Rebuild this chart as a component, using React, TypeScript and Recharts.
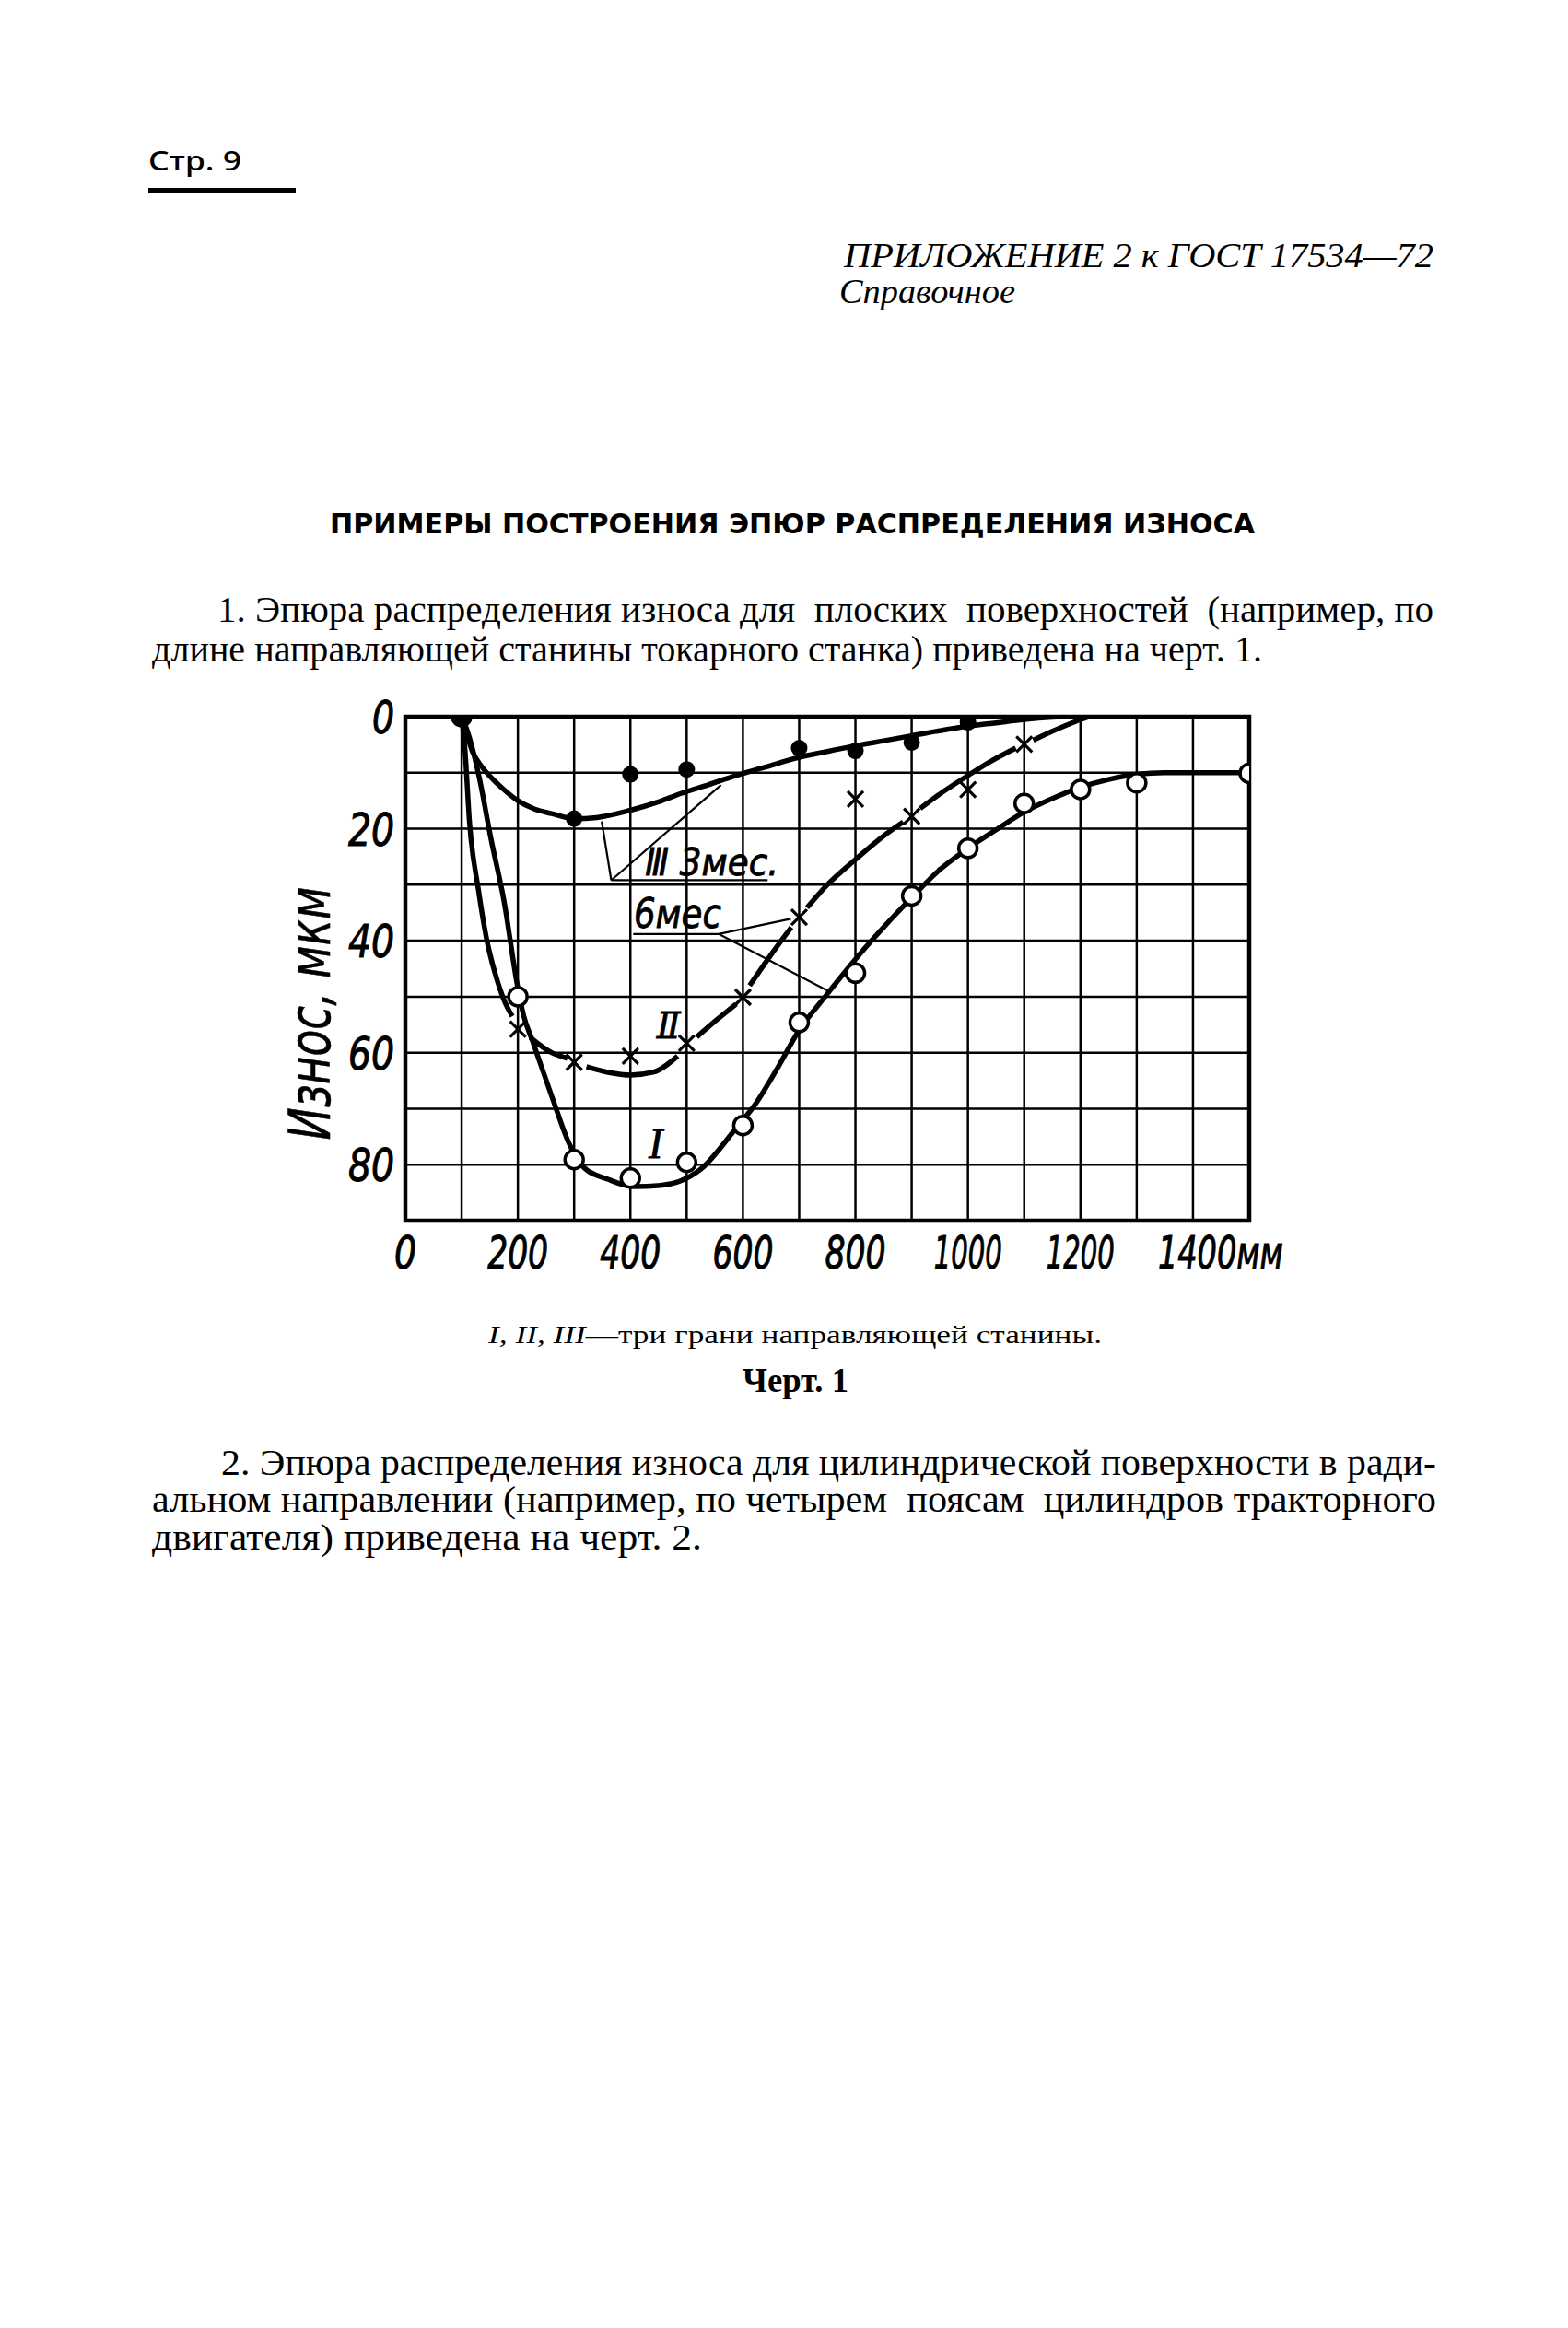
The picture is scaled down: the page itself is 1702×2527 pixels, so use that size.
import React from 'react';
import {
  ComposedChart,
  Line,
  Scatter,
  XAxis,
  YAxis,
  CartesianGrid,
  ReferenceLine,
  ReferenceDot,
  ReferenceArea,
} from 'recharts';

// ---------- data ----------
const xTicks = [0, 200, 400, 600, 800, 1000, 1200, 1400];
const yTicks = [0, 20, 40, 60, 80];
const gridX = [100, 200, 300, 400, 500, 600, 700, 800, 900, 1000, 1100, 1200, 1300, 1400];
const gridY = [10, 20, 30, 40, 50, 60, 70, 80];
const xUnit = 'мм';

type P = { x: number; y: number | null };

// fitted curve I (open circles)
const curveI: P[] = [
  { x: 100, y: 0 }, { x: 110, y: 2.5 }, { x: 131, y: 10.7 }, { x: 152, y: 21.7 }, { x: 175, y: 32.7 },
  { x: 200, y: 48.5 }, { x: 210, y: 53.3 }, { x: 226, y: 57.9 }, { x: 262, y: 68.3 }, { x: 290, y: 76 },
  { x: 316, y: 80.4 }, { x: 360, y: 82.6 }, { x: 406, y: 83.9 }, { x: 454, y: 83.7 }, { x: 524, y: 80.9 },
  { x: 590, y: 73.2 }, { x: 620, y: 69.5 }, { x: 660, y: 63 }, { x: 700, y: 56 }, { x: 750, y: 49.5 },
  { x: 800, y: 43.3 }, { x: 850, y: 37.6 }, { x: 900, y: 32.3 }, { x: 950, y: 27.3 }, { x: 1000, y: 23.5 },
  { x: 1050, y: 20.2 }, { x: 1100, y: 17 }, { x: 1150, y: 14.6 }, { x: 1200, y: 12.6 }, { x: 1250, y: 11.2 },
  { x: 1300, y: 10.3 }, { x: 1350, y: 10 }, { x: 1500, y: 10 },
];

// fitted curve II (crosses) – broken at the crosses as in the drawing
const curveII: P[] = [
  { x: 100, y: 0 }, { x: 106, y: 6 }, { x: 114, y: 18.8 }, { x: 130, y: 31 }, { x: 145, y: 40 },
  { x: 160, y: 46 }, { x: 175, y: 50.5 }, { x: 190, y: 53.5 },
  { x: 200, y: null },
  { x: 222, y: 57.3 }, { x: 260, y: 60 }, { x: 288, y: 61 },
  { x: 300, y: null },
  { x: 322, y: 62.5 }, { x: 360, y: 63.5 }, { x: 400, y: 64 }, { x: 440, y: 63.5 }, { x: 484, y: 60.6 },
  { x: 500, y: null },
  { x: 518, y: 57.2 }, { x: 555, y: 54 }, { x: 588, y: 51.3 },
  { x: 600, y: null },
  { x: 612, y: 48 }, { x: 650, y: 42.5 }, { x: 686, y: 37.6 },
  { x: 700, y: null },
  { x: 714, y: 34.1 }, { x: 750, y: 30 }, { x: 800, y: 25.5 }, { x: 850, y: 21.3 }, { x: 885, y: 18.8 },
  { x: 900, y: null },
  { x: 915, y: 16.4 }, { x: 950, y: 13.8 }, { x: 1000, y: 10.5 }, { x: 1040, y: 8 }, { x: 1085, y: 5.6 },
  { x: 1100, y: null },
  { x: 1116, y: 4.2 }, { x: 1150, y: 2.6 }, { x: 1190, y: 0.9 }, { x: 1215, y: 0 },
];

// fitted curve III (filled dots)
const curveIII: P[] = [
  { x: 100, y: 0 }, { x: 110, y: 3.5 }, { x: 120, y: 6.4 }, { x: 135, y: 8.8 }, { x: 150, y: 10.6 },
  { x: 175, y: 13 }, { x: 200, y: 15 }, { x: 230, y: 16.5 }, { x: 260, y: 17.3 }, { x: 300, y: 18.2 },
  { x: 340, y: 18 }, { x: 400, y: 16.7 }, { x: 450, y: 15.2 }, { x: 490, y: 13.7 }, { x: 540, y: 12.1 },
  { x: 585, y: 10.6 }, { x: 640, y: 9 }, { x: 690, y: 7.5 }, { x: 750, y: 6.2 }, { x: 800, y: 5.2 },
  { x: 850, y: 4.3 }, { x: 900, y: 3.4 }, { x: 950, y: 2.5 }, { x: 1000, y: 1.7 }, { x: 1050, y: 1.1 },
  { x: 1100, y: 0.5 }, { x: 1150, y: 0.1 }, { x: 1170, y: 0 },
];

// measured points
const pointsI = [
  { x: 100, y: 0 }, { x: 200, y: 50 }, { x: 300, y: 79.1 }, { x: 400, y: 82.4 }, { x: 500, y: 79.6 },
  { x: 600, y: 73 }, { x: 700, y: 54.6 }, { x: 800, y: 45.8 }, { x: 900, y: 32 }, { x: 1000, y: 23.5 },
  { x: 1100, y: 15.5 }, { x: 1200, y: 13 }, { x: 1300, y: 11.8 }, { x: 1500, y: 10.1 },
];
const pointsII = [
  { x: 200, y: 55.8 }, { x: 300, y: 61.7 }, { x: 400, y: 60.6 }, { x: 500, y: 58.3 }, { x: 600, y: 50.1 },
  { x: 700, y: 35.8 }, { x: 800, y: 14.7 }, { x: 900, y: 17.8 }, { x: 1000, y: 13 }, { x: 1100, y: 4.9 },
];
const pointsIII = [
  { x: 100, y: 0 }, { x: 300, y: 18.2 }, { x: 400, y: 10.3 }, { x: 500, y: 9.4 }, { x: 700, y: 5.6 },
  { x: 800, y: 6.1 }, { x: 900, y: 4.6 }, { x: 1000, y: 1 },
];

// annotation texts (data coordinates)
const labelIII = { x: 426, y: 28.3, text: 'Ⅲ 3мес.' };
const label6 = { x: 406, y: 37.7, text: '6мес' };
const labelII = { x: 468, y: 55.3, text: 'Ⅱ' };
const labelI = { x: 445, y: 76.2, text: 'I' };
const leaders = [
  [{ x: 349, y: 18.7 }, { x: 366, y: 29.2 }],
  [{ x: 366, y: 29.2 }, { x: 561, y: 12.2 }],
  [{ x: 366, y: 29.2 }, { x: 644, y: 29.2 }],
  [{ x: 405, y: 38.8 }, { x: 557, y: 38.8 }],
  [{ x: 557, y: 38.8 }, { x: 685, y: 36.1 }],
  [{ x: 557, y: 38.8 }, { x: 754, y: 49.1 }],
];

// ---------- styles ----------
const NARROW = "'Liberation Sans Narrow', 'DejaVu Sans Condensed', 'Arial Narrow', 'DejaVu Sans', sans-serif";
const SERIF = "'Liberation Serif', 'DejaVu Serif', serif";
const tickStyle: React.CSSProperties = {
  fontFamily: NARROW,
  fontStyle: 'italic',
  fontSize: 50,
  fill: '#000',
  stroke: '#000',
  strokeWidth: 1,
};
const tickLen = (s: string) => ({ 1: 24, 2: 50, 3: 66, 4: 74 } as Record<number, number>)[s.length] || s.length * 18;

const XTick = (props: any) => {
  const { x, y, payload } = props;
  const v = String(payload.value);
  const last = payload.value === xTicks[xTicks.length - 1];
  if (last) {
    return (
      <text x={x - 38} y={y + 52} textAnchor="start" style={tickStyle} textLength={136} lengthAdjust="spacingAndGlyphs">
        {v + xUnit}
      </text>
    );
  }
  return (
    <text x={x} y={y + 52} textAnchor="middle" style={tickStyle} textLength={tickLen(v)} lengthAdjust="spacingAndGlyphs">
      {v}
    </text>
  );
};

const YTick = (props: any) => {
  const { x, y, payload } = props;
  const v = String(payload.value);
  return (
    <text x={x - 12} y={y + 18} textAnchor="end" style={tickStyle} textLength={tickLen(v)} lengthAdjust="spacingAndGlyphs">
      {v}
    </text>
  );
};

const OpenCircle = (props: any) => {
  const { cx, cy } = props;
  if (cx == null || cy == null) return null;
  return <circle cx={cx} cy={cy} r={10} fill="#fff" stroke="#000" strokeWidth={3.5} />;
};
const Cross = (props: any) => {
  const { cx, cy } = props;
  if (cx == null || cy == null) return null;
  const s = 8.5;
  return (
    <g stroke="#000" strokeWidth={3.2}>
      <line x1={cx - s} y1={cy - s} x2={cx + s} y2={cy + s} />
      <line x1={cx - s} y1={cy + s} x2={cx + s} y2={cy - s} />
    </g>
  );
};
const FilledDot = (props: any) => {
  const { cx, cy } = props;
  if (cx == null || cy == null) return null;
  return <circle cx={cx} cy={cy} r={9} fill="#000" />;
};

const makeText = (text: string, size: number, anchor: string, len?: number, family = NARROW) => (p: any) => (
  <text
    x={p.cx}
    y={p.cy}
    textAnchor={anchor as any}
    fontFamily={family}
    fontStyle="italic"
    fontSize={size}
    fill="#000"
    stroke="#000"
    strokeWidth={0.8}
    textLength={len}
    lengthAdjust="spacingAndGlyphs"
  >
    {text}
  </text>
);

const Chart = () => (
  <ComposedChart width={1200} height={700} margin={{ top: 38, right: 94, bottom: 0, left: 0 }}>
    <CartesianGrid
      horizontalValues={gridY}
      verticalValues={gridX}
      stroke="#000"
      strokeWidth={2.5}
      fill="none"
    />
    <XAxis
      type="number"
      dataKey="x"
      domain={[0, 1500]}
      ticks={xTicks}
      interval={0}
      tickSize={0}
      tickMargin={0}
      axisLine={false}
      tickLine={false}
      height={115}
      tick={XTick}
      allowDataOverflow
    />
    <YAxis
      type="number"
      dataKey="y"
      domain={[0, 90]}
      reversed
      ticks={yTicks}
      interval={0}
      tickSize={0}
      tickMargin={0}
      axisLine={false}
      tickLine={false}
      width={190}
      tick={YTick}
      allowDataOverflow
    />
    <ReferenceArea
      x1={0}
      x2={1500}
      y1={0}
      y2={90}
      fill="none"
      fillOpacity={0}
      stroke="#000"
      strokeWidth={4.5}
      ifOverflow="visible"
    />
    {leaders.map((seg, i) => (
      <ReferenceLine key={i} segment={seg} stroke="#000" strokeWidth={2.2} ifOverflow="visible" />
    ))}
    <Line data={curveIII} dataKey="y" type="monotone" stroke="#000" strokeWidth={5.5} dot={false} activeDot={false} isAnimationActive={false} />
    <Line data={curveII} dataKey="y" type="monotone" stroke="#000" strokeWidth={5.5} dot={false} activeDot={false} isAnimationActive={false} />
    <Line data={curveI} dataKey="y" type="monotone" stroke="#000" strokeWidth={5.5} dot={false} activeDot={false} isAnimationActive={false} />
    <Scatter data={pointsI} shape={OpenCircle} isAnimationActive={false} />
    <Scatter data={pointsII} shape={Cross} isAnimationActive={false} />
    <Scatter data={pointsIII} shape={FilledDot} isAnimationActive={false} />
    <ReferenceDot x={labelIII.x} y={labelIII.y} r={0} ifOverflow="visible" shape={makeText(labelIII.text, 40, 'start', 145)} />
    <ReferenceDot x={label6.x} y={label6.y} r={0} ifOverflow="visible" shape={makeText(label6.text, 44, 'start', 95)} />
    <ReferenceDot x={labelII.x} y={labelII.y + 2.2} r={0} ifOverflow="visible" shape={makeText(labelII.text, 40, 'middle', 26, SERIF)} />
    <ReferenceDot x={labelI.x} y={labelI.y + 2.6} r={0} ifOverflow="visible" shape={makeText(labelI.text, 46, 'middle', undefined, SERIF)} />
  </ComposedChart>
);

const bodyText = { fontFamily: SERIF, fontSize: 40, fill: '#000' } as const;

export default function App() {
  return (
    <div style={{ position: 'absolute', left: 0, top: 0, width: 1702, height: 2527, background: '#fff' }}>
      <svg width={1702} height={2527} style={{ position: 'absolute', left: 0, top: 0 }}>
        <text x={161} y={185} fontFamily="'Noto Sans', sans-serif" fontWeight={500} fontSize={28} textLength={101} lengthAdjust="spacingAndGlyphs">
          Стр. 9
        </text>
        <rect x={161} y={204} width={160} height={5} fill="#000" />
        <text x={916} y={290} fontFamily={SERIF} fontStyle="italic" fontSize={37} textLength={640} lengthAdjust="spacingAndGlyphs">
          ПРИЛОЖЕНИЕ 2 к ГОСТ 17534—72
        </text>
        <text x={911} y={329} fontFamily={SERIF} fontStyle="italic" fontSize={37} textLength={191} lengthAdjust="spacingAndGlyphs">
          Справочное
        </text>
        <text x={358} y={579} fontFamily="'DejaVu Sans', sans-serif" fontWeight={700} fontSize={30} textLength={1004} lengthAdjust="spacingAndGlyphs">
          ПРИМЕРЫ ПОСТРОЕНИЯ ЭПЮР РАСПРЕДЕЛЕНИЯ ИЗНОСА
        </text>
        <text x={236} y={675} {...bodyText} textLength={1320} lengthAdjust="spacingAndGlyphs" style={{ whiteSpace: 'pre' }}>
          1. Эпюра распределения износа для  плоских  поверхностей  (например, по
        </text>
        <text x={165} y={718} {...bodyText} textLength={1205} lengthAdjust="spacingAndGlyphs">
          длине направляющей станины токарного станка) приведена на черт. 1.
        </text>
        <text
          x={358}
          y={1100}
          transform="rotate(-90 358 1100)"
          textAnchor="middle"
          fontFamily={NARROW}
          fontStyle="italic"
          fontSize={62}
          stroke="#000"
          strokeWidth={0.6}
          textLength={275}
          lengthAdjust="spacingAndGlyphs"
        >
          Износ, мкм
        </text>
        <text x={530} y={1458} fontFamily={SERIF} fontSize={28} textLength={666} lengthAdjust="spacingAndGlyphs">
          <tspan fontStyle="italic">I, II, III</tspan>—три грани направляющей станины.
        </text>
        <text x={806} y={1511} fontFamily={SERIF} fontWeight={700} fontSize={38} textLength={115} lengthAdjust="spacingAndGlyphs">
          Черт. 1
        </text>
        <text x={240} y={1601} {...bodyText} textLength={1319} lengthAdjust="spacingAndGlyphs">
          2. Эпюра распределения износа для цилиндрической поверхности в ради-
        </text>
        <text x={165} y={1641} {...bodyText} textLength={1394} lengthAdjust="spacingAndGlyphs" style={{ whiteSpace: 'pre' }}>
          альном направлении (например, по четырем  поясам  цилиндров тракторного
        </text>
        <text x={165} y={1682} {...bodyText} textLength={597} lengthAdjust="spacingAndGlyphs">
          двигателя) приведена на черт. 2.
        </text>
      </svg>
      <div style={{ position: 'absolute', left: 250, top: 740 }}>
        <Chart />
      </div>
    </div>
  );
}
